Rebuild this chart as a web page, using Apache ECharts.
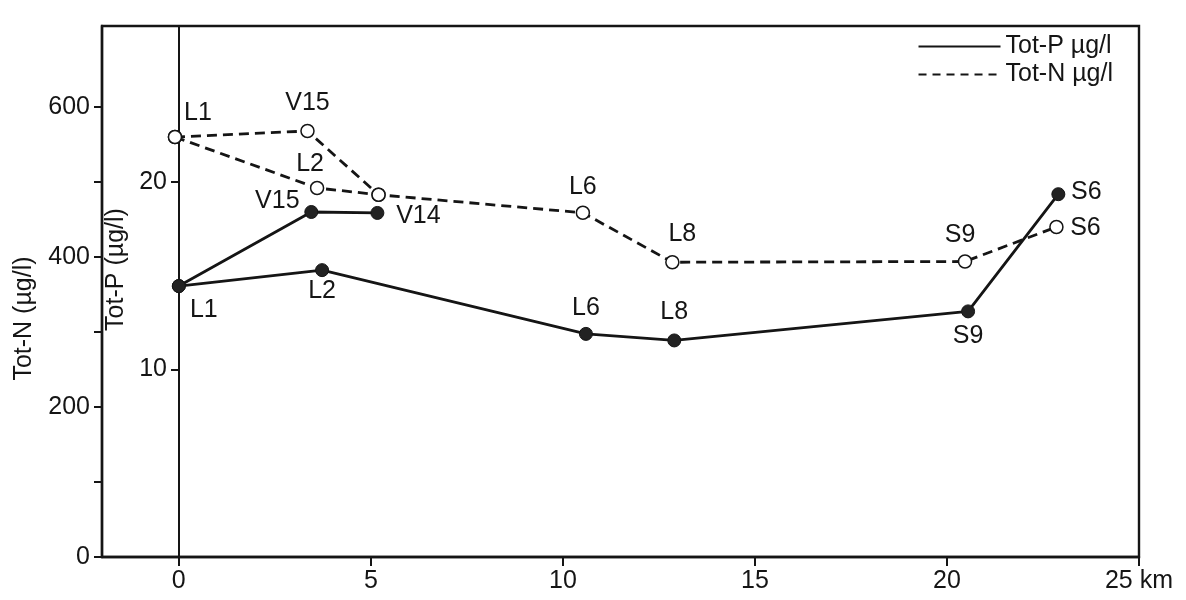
<!DOCTYPE html>
<html><head><meta charset="utf-8">
<script src="https://cdn.jsdelivr.net/npm/echarts@6/dist/echarts.min.js"></script>
<style>html,body{margin:0;padding:0;background:#fff}#c{width:1186px;height:600px}</style>
</head><body><div id="c"></div>
<script>
// ---- data ----
const stations = ['L1', 'V15', 'V14', 'L2', 'L6', 'L8', 'S9', 'S6'];
const totP_km = [0.0, 3.45, 5.17, 3.73, 10.6, 12.9, 20.55, 22.9];
const totP = [14.45, 18.4, 18.35, 15.3, 11.9, 11.55, 13.1, 19.35];
const totN_km = [-0.1, 3.35, 5.2, 3.6, 10.52, 12.85, 20.47, 22.85];
const totN = [560, 568, 483, 492, 459, 393, 394, 440];
const routeBranch = ['L1', 'V15', 'V14'];
const routeP = ['L1', 'L2', 'L6', 'L8', 'S9', 'S6'];
const routeN = ['L1', 'L2', 'V14', 'L6', 'L8', 'S9', 'S6'];
const xTickValues = [0, 5, 10, 15, 20, 25];
const nLabelValues = [0, 200, 400, 600];
const nTickValues = [0, 100, 200, 300, 400, 500, 600];
const pTickValues = [10, 20];
const legendP = 'Tot-P µg/l';
const legendN = 'Tot-N µg/l';

// ---- styles (label placement offsets, px) ----
const offPmain = { L1: [25, 24], L2: [0, 21], L6: [0, -26], L8: [0, -28], S9: [0, 25], S6: [28, -2] };
const offPbranch = { V15: [-34, -11], V14: [41, 3] };
const offNmain = { L1: [23, -24], L2: [-7, -24], L6: [0, -26], L8: [10, -28], S9: [-5, -26], S6: [29, 1] };
const offNbranch = { V15: [0, -28] };

const FONT = '"Liberation Sans", Arial, Helvetica, sans-serif';
const INK = '#151515';
const GRID_LEFT = 102, GRID_RIGHT = 47, X_MIN = -2, X_MAX = 25;
const plotW = 1186 - GRID_LEFT - GRID_RIGHT;
const pAxisOffset = -Math.round((0 - X_MIN) / (X_MAX - X_MIN) * plotW);

function build(route, kmArr, valArr, offs) {
  return route.map(function (s) {
    const i = stations.indexOf(s);
    const o = offs[s];
    return {
      name: s,
      value: [kmArr[i], valArr[i]],
      label: o ? { show: true, offset: o } : { show: false }
    };
  });
}

const labelBase = {
  show: true, position: 'inside', formatter: '{b}',
  color: INK, fontSize: 25, fontFamily: FONT, align: 'center', verticalAlign: 'middle'
};

function pSeries(route, offs) {
  return {
    type: 'line', yAxisIndex: 1, data: build(route, totP_km, totP, offs),
    symbol: 'circle', symbolSize: 13, showAllSymbol: true,
    lineStyle: { color: INK, width: 2.8 },
    itemStyle: { color: '#222', borderColor: INK, borderWidth: 1 },
    label: labelBase, z: 4, animation: false, legendHoverLink: false
  };
}
function nSeries(route, offs) {
  return {
    type: 'line', yAxisIndex: 0, data: build(route, totN_km, totN, offs),
    symbol: 'circle', symbolSize: 13, showAllSymbol: true,
    lineStyle: { color: INK, width: 2.8, type: [10, 6] },
    itemStyle: { color: '#fff', borderColor: INK, borderWidth: 1.5 },
    label: labelBase, z: 3, animation: false, legendHoverLink: false
  };
}

const chart = echarts.init(document.getElementById('c'), null, { renderer: 'canvas' });
chart.setOption({
  animation: false,
  backgroundColor: '#fff',
  textStyle: { fontFamily: FONT, color: INK },
  grid: { left: GRID_LEFT, right: GRID_RIGHT, top: 26, bottom: 43, show: true, borderColor: INK, borderWidth: 2.4, backgroundColor: 'transparent' },
  legend: {
    orient: 'vertical', right: 68, top: 29, itemWidth: 82, itemHeight: 14, itemGap: 3,
    data: [legendP, legendN], selectedMode: false,
    itemStyle: { opacity: 0 },
    textStyle: { fontSize: 25, fontFamily: FONT, color: INK }
  },
  xAxis: {
    type: 'value', min: X_MIN, max: X_MAX,
    axisLine: { onZero: false, lineStyle: { color: INK, width: 2.4 } },
    axisTick: { show: true, customValues: xTickValues, length: 9, lineStyle: { color: INK, width: 2 } },
    axisLabel: {
      customValues: xTickValues, margin: 12, fontSize: 25, fontFamily: FONT, color: INK,
      formatter: function (v) { return v === 25 ? '25 km' : String(v); }
    },
    splitLine: { show: false }
  },
  yAxis: [
    {
      type: 'value', min: 0, max: 708, position: 'left',
      name: 'Tot-N (µg/l)', nameLocation: 'middle', nameGap: 65,
      nameTextStyle: { fontSize: 25, fontFamily: FONT, color: INK, padding: [0, 54, 0, 0] },
      axisLine: { show: true, onZero: false, lineStyle: { color: INK, width: 2.4 } },
      axisTick: { show: true, customValues: nTickValues, length: 8, lineStyle: { color: INK, width: 2 } },
      axisLabel: { customValues: nLabelValues, margin: 12, fontSize: 25, fontFamily: FONT, color: INK },
      splitLine: { show: false }
    },
    {
      type: 'value', min: 0, max: 28.32, position: 'left', offset: pAxisOffset,
      name: 'Tot-P (µg/l)', nameLocation: 'middle', nameGap: 38,
      nameTextStyle: { fontSize: 25, fontFamily: FONT, color: INK, padding: [0, 0, 0, 44] },
      axisLine: { show: true, onZero: false, lineStyle: { color: INK, width: 2 } },
      axisTick: { show: true, customValues: pTickValues, length: 8, lineStyle: { color: INK, width: 2 } },
      axisLabel: { customValues: pTickValues, margin: 12, fontSize: 25, fontFamily: FONT, color: INK },
      splitLine: { show: false }
    }
  ],
  series: [
    { name: legendP, type: 'line', yAxisIndex: 1, data: [], symbol: 'none', itemStyle: { color: 'rgba(0,0,0,0)' }, lineStyle: { color: INK, width: 2 } },
    { name: legendN, type: 'line', yAxisIndex: 0, data: [], symbol: 'none', itemStyle: { color: 'rgba(0,0,0,0)' }, lineStyle: { color: INK, width: 2, type: [8, 6] } },
    pSeries(routeP, offPmain),
    pSeries(routeBranch, offPbranch),
    nSeries(routeN, offNmain),
    nSeries(routeBranch, offNbranch)
  ]
});
</script>
</body></html>
